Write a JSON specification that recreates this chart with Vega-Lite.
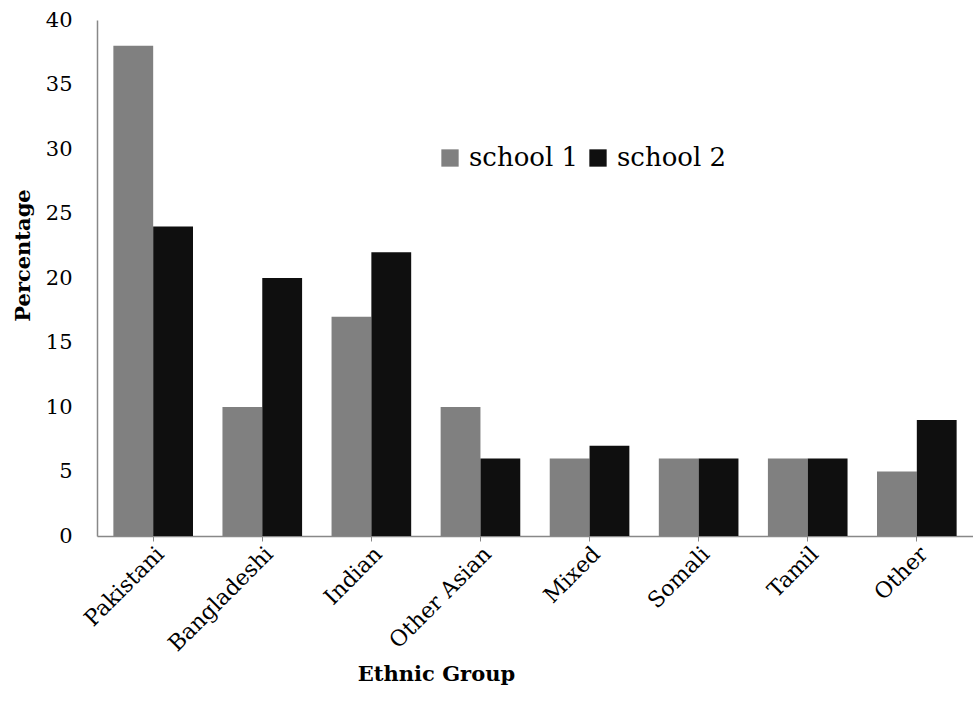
{
  "$schema": "https://vega.github.io/schema/vega-lite/v6.json",
  "width": 876,
  "height": 516,
  "autosize": "none",
  "padding": {"left": 97, "top": 20, "right": 0, "bottom": 179},
  "background": "white",
  "config": {
    "view": {"stroke": null},
    "font": "DejaVu Serif"
  },
  "data": {
    "values": [
      {"group": "Pakistani", "school": "school 1", "pct": 38},
      {"group": "Pakistani", "school": "school 2", "pct": 24},
      {"group": "Bangladeshi", "school": "school 1", "pct": 10},
      {"group": "Bangladeshi", "school": "school 2", "pct": 20},
      {"group": "Indian", "school": "school 1", "pct": 17},
      {"group": "Indian", "school": "school 2", "pct": 22},
      {"group": "Other Asian", "school": "school 1", "pct": 10},
      {"group": "Other Asian", "school": "school 2", "pct": 6},
      {"group": "Mixed", "school": "school 1", "pct": 6},
      {"group": "Mixed", "school": "school 2", "pct": 7},
      {"group": "Somali", "school": "school 1", "pct": 6},
      {"group": "Somali", "school": "school 2", "pct": 6},
      {"group": "Tamil", "school": "school 1", "pct": 6},
      {"group": "Tamil", "school": "school 2", "pct": 6},
      {"group": "Other", "school": "school 1", "pct": 5},
      {"group": "Other", "school": "school 2", "pct": 9}
    ]
  },
  "mark": {"type": "bar"},
  "encoding": {
    "x": {
      "field": "group",
      "type": "nominal",
      "sort": null,
      "scale": {"paddingInner": 0.27, "paddingOuter": 0.15},
      "axis": {
        "title": "Ethnic Group",
        "titleFontSize": 21,
        "titleFontWeight": "bold",
        "titleColor": "black",
        "titleX": 339,
        "titleY": 127,
        "labelAngle": -45,
        "labelFontSize": 22,
        "labelColor": "black",
        "labelPadding": 2,
        "domainColor": "#888888",
        "domainWidth": 1.5,
        "tickColor": "#888888",
        "tickSize": 5
      }
    },
    "xOffset": {"field": "school", "type": "nominal"},
    "y": {
      "field": "pct",
      "type": "quantitative",
      "scale": {"domain": [0, 40]},
      "axis": {
        "title": "Percentage",
        "titleFontSize": 21,
        "titleFontWeight": "bold",
        "titleColor": "black",
        "titleX": -64,
        "titleY": 235,
        "values": [0, 5, 10, 15, 20, 25, 30, 35, 40],
        "grid": false,
        "ticks": false,
        "labelFontSize": 21,
        "labelColor": "black",
        "labelPadding": 25,
        "domainColor": "#888888",
        "domainWidth": 1.5
      }
    },
    "color": {
      "field": "school",
      "type": "nominal",
      "scale": {"domain": ["school 1", "school 2"], "range": ["#808080", "#0f0f0f"]},
      "legend": {
        "title": null,
        "orient": "none",
        "legendX": 340,
        "legendY": 125,
        "direction": "horizontal",
        "symbolType": "square",
        "symbolSize": 300,
        "symbolStrokeWidth": 0,
        "labelFontSize": 26,
        "labelColor": "black",
        "columnPadding": 6,
        "labelOffset": 6
      }
    }
  }
}
